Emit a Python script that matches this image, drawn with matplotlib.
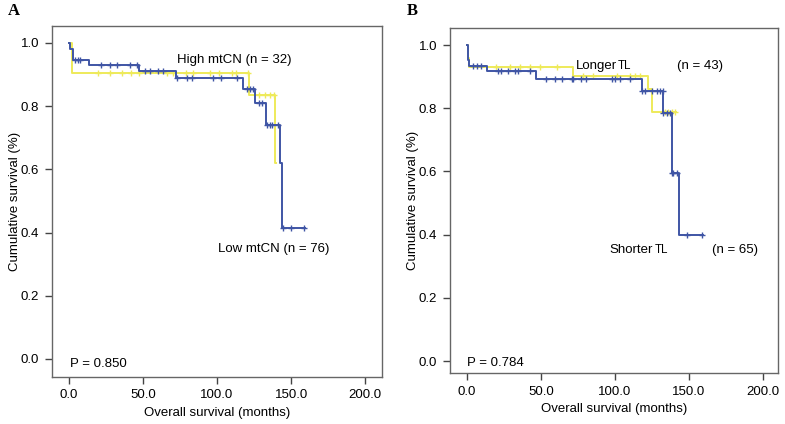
import matplotlib
matplotlib.use("Agg")
import matplotlib.pyplot as plt
import numpy as np

plt.rcParams['font.family'] = ['Liberation Sans', 'DejaVu Sans']
plt.rcParams['font.size'] = 9

blue = '#3f55a5'
yellow = '#eeea5a'

# ---- panel A : mtCN ----
a_low_t = [0, 1.0, 2.5, 13.5, 47, 72, 117.6, 125.7, 133, 142.6, 143.5, 159.5]
a_low_s = [1.0, 0.98, 0.945, 0.93, 0.91, 0.89, 0.854, 0.81, 0.74, 0.62, 0.414, 0.414]
a_low_cens_t = [4.0, 6.3, 7.4, 22, 27.7, 32.2, 41.2, 45.7, 51.4, 54.7, 60.4, 63.7,
                72.7, 79.5, 82.9, 97.5, 103, 113.3, 120, 122.3, 124.5, 128, 130,
                133.6, 135.4, 137, 140.8, 144.8, 149.8, 158.8]

a_high_t = [0, 2, 121.6, 139, 140]
a_high_s = [1.0, 0.905, 0.835, 0.62, 0.62]
a_high_cens_t = [20, 28, 36, 42, 47, 66, 70, 79, 84, 95, 101, 110, 113, 121,
                 128, 132.4, 135.8, 138.5]

# ---- panel B : telomere length ----
b_short_t = [0, 0.8, 1.5, 13.4, 47, 118.1, 132.5, 138.3, 143.3, 159.7]
b_short_s = [1.0, 0.953, 0.934, 0.918, 0.892, 0.855, 0.784, 0.594, 0.40, 0.40]
b_short_cens_t = [4.3, 7.0, 9.9, 21.2, 23.4, 27.9, 32.5, 34.7, 42.5, 53.8, 59.5,
                  64, 70.8, 71.9, 77.4, 80.8, 97.8, 100, 103.4, 110.1, 118.1,
                  120.2, 124.8, 128.2, 130.4, 132.2, 132.7, 134.9, 137.2, 138.3,
                  139.4, 141.7, 148.9, 158.7]

b_long_t = [0, 0.5, 1.5, 71.9, 122.5, 124.8, 141.2]
b_long_s = [1.0, 0.96, 0.932, 0.902, 0.86, 0.789, 0.789]
b_long_cens_t = [20, 29.1, 35.8, 42.5, 49.3, 60.6, 78.6, 85.2, 101.2, 109.9,
                 113.5, 116.9, 133.8, 136, 138.3, 140.5]

xticks = [0, 50, 100, 150, 200]
yticks = [0.0, 0.2, 0.4, 0.6, 0.8, 1.0]


def step_value(t, s, x):
    # survival value at time x for a right-continuous step function
    idx = np.searchsorted(t, x, side='right') - 1
    return np.array(s)[idx]


def km(ax, t, s, cens, color, z):
    ax.step(t, s, where='post', color=color, lw=1.4, zorder=z)
    ax.plot(cens, step_value(t, s, cens), ls='none', marker='|', ms=5,
            mew=1.0, color=color, zorder=z)
    ax.plot(cens, step_value(t, s, cens), ls='none', marker='_', ms=4,
            mew=1.0, color=color, zorder=z)


def style(ax, xlim, ylim):
    ax.set_xlim(*xlim)
    ax.set_ylim(*ylim)
    ax.set_xticks(xticks)
    ax.set_xticklabels(['%.1f' % v for v in xticks])
    ax.set_yticks(yticks)
    ax.set_yticklabels(['%.1f' % v for v in yticks])
    ax.tick_params(direction='out', length=5, width=1, color='#444444',
                   labelsize=9.5, pad=4)
    for sp in ax.spines.values():
        sp.set_color('#666666')
        sp.set_linewidth(1.0)
    ax.set_xlabel('Overall survival (months)', fontsize=9.5, labelpad=4)
    ax.set_ylabel('Cumulative survival (%)', fontsize=9.5, labelpad=0)


fig = plt.figure(figsize=(7.85, 4.24), dpi=100)
axA = fig.add_axes([0.066, 0.111, 0.421, 0.828])
axB = fig.add_axes([0.573, 0.120, 0.418, 0.814])

fs = 9.5
km(axA, a_high_t, a_high_s, a_high_cens_t, yellow, 2)
km(axA, a_low_t, a_low_s, a_low_cens_t, blue, 3)
style(axA, (-11.5, 211.5), (-0.057, 1.054))
axA.text(73, 0.937, 'High mtCN (n = 32)', fontsize=fs, va='baseline')
axA.text(100.5, 0.339, 'Low mtCN (n = 76)', fontsize=fs, va='baseline')
axA.text(0.5, -0.025, 'P = 0.850', fontsize=fs, va='baseline')

km(axB, b_long_t, b_long_s, b_long_cens_t, yellow, 2)
km(axB, b_short_t, b_short_s, b_short_cens_t, blue, 3)
style(axB, (-11.5, 210.1), (-0.038, 1.054))
axB.text(73.4, 0.925, 'Longer', fontsize=fs, va='baseline')
axB.text(102.2, 0.925, 'TL', fontsize=8.3, va='baseline')
axB.text(141.7, 0.925, '(n = 43)', fontsize=fs, va='baseline')
axB.text(96, 0.342, 'Shorter', fontsize=fs, va='baseline')
axB.text(126.8, 0.342, 'TL', fontsize=8.3, va='baseline')
axB.text(165.4, 0.342, '(n = 65)', fontsize=fs, va='baseline')
axB.text(0, -0.015, 'P = 0.784', fontsize=fs, va='baseline')

fig.text(8 / 785, 1 - 15 / 424, 'A', family='Liberation Serif',
         fontweight='bold', fontsize=12, ha='left', va='baseline')
fig.text(407 / 785, 1 - 15 / 424, 'B', family='Liberation Serif',
         fontweight='bold', fontsize=12, ha='left', va='baseline')

fig.savefig('out.png', dpi=100)
